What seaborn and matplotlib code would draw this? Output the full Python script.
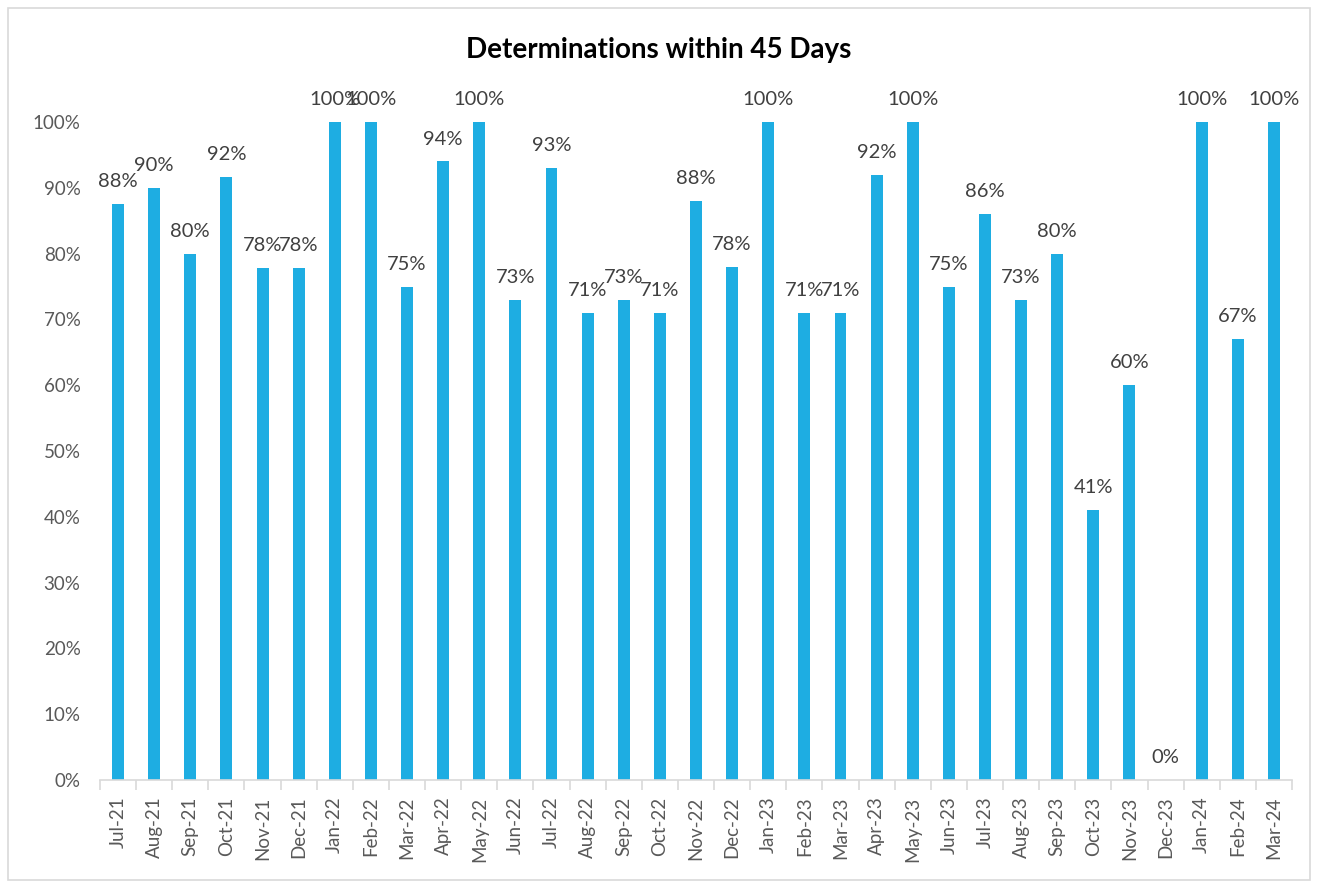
import matplotlib
matplotlib.use("Agg")
import matplotlib.pyplot as plt
from matplotlib.patches import Rectangle
from matplotlib.ticker import FixedLocator, PercentFormatter
import seaborn as sns
import pandas as pd
import numpy as np

months = ["Jul-21", "Aug-21", "Sep-21", "Oct-21", "Nov-21", "Dec-21", "Jan-22", "Feb-22",
          "Mar-22", "Apr-22", "May-22", "Jun-22", "Jul-22", "Aug-22", "Sep-22", "Oct-22",
          "Nov-22", "Dec-22", "Jan-23", "Feb-23", "Mar-23", "Apr-23", "May-23", "Jun-23",
          "Jul-23", "Aug-23", "Sep-23", "Oct-23", "Nov-23", "Dec-23", "Jan-24", "Feb-24",
          "Mar-24"]
pct_within_45 = [87.5, 90, 80, 91.7, 77.8, 77.8, 100, 100, 75, 94, 100, 73, 93, 71, 73, 71,
                 88, 78, 100, 71, 71, 92, 100, 75, 86, 73, 80, 41, 60, 0, 100, 67, 100]

df = pd.DataFrame({"month": months, "pct": pct_within_45})

sns.set_theme(style="white")
plt.rcParams["font.family"] = ["Lato", "DejaVu Sans"]

fig = plt.figure(figsize=(13.18, 8.84), dpi=100)
ax = fig.add_axes([100 / 1318, 1 - 780 / 884, 1192 / 1318, (780 - 122) / 884])

bar_color = "#1EADE2"
sns.barplot(data=df, x="month", y="pct", color=bar_color, width=0.33,
            saturation=1, ax=ax, edgecolor="none")

ax.set_ylim(0, 100)
ax.set_xlim(-0.5, len(months) - 0.5)
ax.set_yticks(np.arange(0, 101, 10))
ax.yaxis.set_major_formatter(PercentFormatter(decimals=0))
ax.set_xlabel("")
ax.set_ylabel("")

for side in ["top", "right", "left"]:
    ax.spines[side].set_visible(False)
ax.spines["bottom"].set_color("#D9D9D9")
ax.spines["bottom"].set_linewidth(1.2)

ax.tick_params(axis="y", length=0, pad=14, labelsize=13.5, labelcolor="#595959")
ax.tick_params(axis="x", which="major", length=0, pad=12, labelsize=13.5,
               labelcolor="#595959", labelrotation=90)
ax.xaxis.set_minor_locator(FixedLocator(np.arange(-0.5, len(months), 1.0)))
ax.tick_params(axis="x", which="minor", length=7, width=1.2, color="#D9D9D9",
               direction="out", bottom=True)

labels = [f"{round(v):.0f}%" for v in pct_within_45]
ax.bar_label(ax.containers[0], labels=labels, padding=10, fontsize=14.5,
             color="#404040", clip_on=False)

fig.text(0.5, 1 - 50 / 884, "Determinations within 45 Days", ha="center", va="center",
         fontsize=20, fontweight="bold", color="black")

fig.patches.append(Rectangle((8 / 1318, 4 / 884), 1302 / 1318, 872 / 884,
                             transform=fig.transFigure, fill=False,
                             edgecolor="#D9D9D9", linewidth=1.2))

fig.savefig("out.png", dpi=100, facecolor="white")
